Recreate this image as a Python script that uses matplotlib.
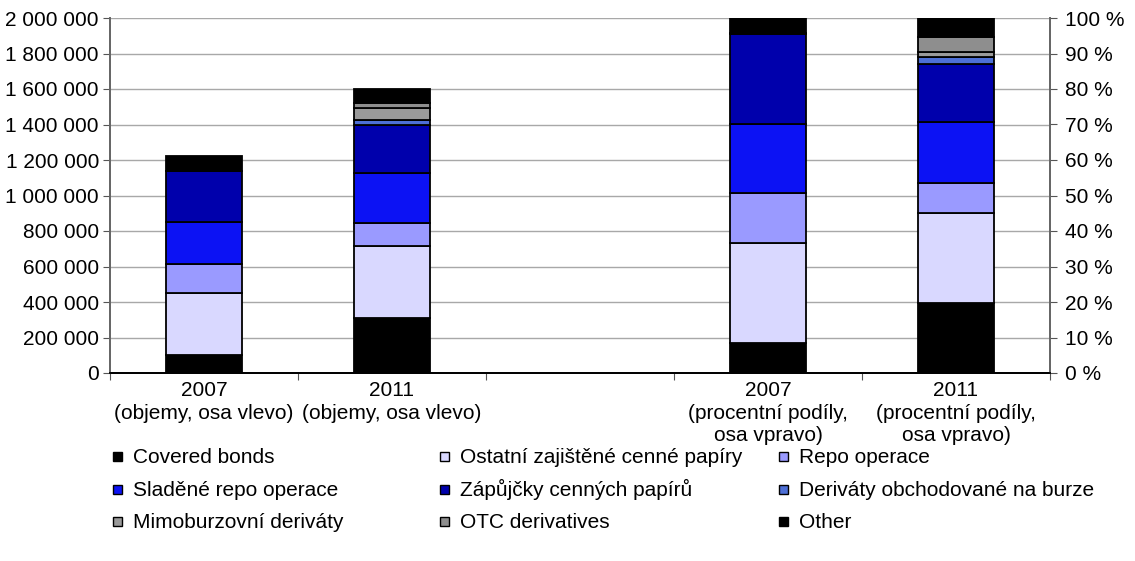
import matplotlib
matplotlib.use("Agg")
import matplotlib.pyplot as plt
from matplotlib.patches import Rectangle
from matplotlib.ticker import FuncFormatter, FixedLocator

plt.rcParams['font.family'] = ['Liberation Sans', 'DejaVu Sans']

# ---- data ----
series = ["Covered bonds", "Ostatní zajištěné cenné papíry", "Repo operace",
          "Sladěné repo operace", "Zápůjčky cenných papírů",
          "Deriváty obchodované na burze", "Mimoburzovní deriváty",
          "OTC derivatives", "Other"]
colors = ["#000000", "#d9d8ff", "#9a9aff", "#0c12f4", "#0000ac",
          "#4d6fd6", "#9a9a9a", "#8e8e8e", "#000000"]

categories = ["2007\n(objemy, osa vlevo)", "2011\n(objemy, osa vlevo)", "",
              "2007\n(procentní podíly,\nosa vpravo)",
              "2011\n(procentní podíly,\nosa vpravo)"]

vol_2007 = [100000, 350000, 165000, 235000, 290000, 0, 0, 0, 80000]
vol_2011 = [310000, 406000, 130000, 282000, 270000, 28000, 68000, 28000, 79000]
pct_2007 = [8.5, 28.2, 14.1, 19.4, 25.3, 0.0, 0.3, 0.0, 4.2]
pct_2011 = [19.7, 25.4, 8.5, 17.2, 16.3, 2.0, 1.4, 4.2, 5.3]

left_ticks = [0, 200000, 400000, 600000, 800000, 1000000, 1200000,
              1400000, 1600000, 1800000, 2000000]
right_ticks = [0, 10, 20, 30, 40, 50, 60, 70, 80, 90, 100]

# ---- figure ----
W, H = 1135, 561
fig = plt.figure(figsize=(W / 100, H / 100), dpi=100)
ax = fig.add_axes([110 / W, (H - 373) / H, (1050 - 110) / W, (373 - 18) / H])
ax2 = ax.twinx()

bw = 0.40
fs = 15

def stack(axis, xpos, vals):
    bottom = 0
    for v, c in zip(vals, colors):
        axis.bar(xpos, v, bw, bottom=bottom, color=c, edgecolor="black",
                 linewidth=1.3, zorder=3)
        bottom += v

stack(ax, 0, vol_2007)
stack(ax, 1, vol_2011)
stack(ax2, 3, pct_2007)
stack(ax2, 4, pct_2011)

ax.set_xlim(-0.5, 4.5)
ax.set_ylim(0, 2000000)
ax2.set_ylim(0, 100)

ax.set_yticks(left_ticks)
ax.yaxis.set_major_formatter(FuncFormatter(lambda v, p: f"{int(v):,}".replace(",", " ")))
ax2.set_yticks(right_ticks)
ax2.yaxis.set_major_formatter(FuncFormatter(lambda v, p: f"{int(v)} %"))

ax.grid(axis="y", color="#a8a8a8", linewidth=1.0, zorder=0)
ax.set_axisbelow(True)

# x ticks: marks at boundaries, labels at centres
ax.xaxis.set_major_locator(FixedLocator([-0.5, 0.5, 1.5, 2.5, 3.5, 4.5]))
ax.set_xticklabels([""] * 6)
ax.xaxis.set_minor_locator(FixedLocator([0, 1, 2, 3, 4]))
ax.set_xticklabels(categories, minor=True, fontsize=fs, linespacing=1.22)
ax.tick_params(axis="x", which="major", length=5, direction="out", color="#555555")
ax.tick_params(axis="x", which="minor", length=0, pad=6)

ax.tick_params(axis="y", length=5, direction="out", color="#555555", labelsize=fs, pad=3)
ax2.tick_params(axis="y", length=5, direction="out", color="#555555", labelsize=fs, pad=6)

for a in (ax, ax2):
    a.spines["top"].set_visible(False)
    a.spines["left"].set_color("#666666")
    a.spines["right"].set_color("#666666")
    a.spines["bottom"].set_color("#000000")
    a.spines["left"].set_linewidth(1.3)
    a.spines["right"].set_linewidth(1.3)
    a.spines["bottom"].set_linewidth(1.3)

# ---- legend: three columns, filled row-wise, fixed rows ----
col_px = [113, 440, 779]
row_px = [456, 489, 521]
sq = 9
for i, (name, c) in enumerate(zip(series, colors)):
    r, k = divmod(i, 3)
    x0 = col_px[k]
    yc = row_px[r]
    fig.patches.append(Rectangle((x0 / W, (H - yc - sq / 2) / H), sq / W, sq / H,
                                 facecolor=c, edgecolor="black", linewidth=1.0,
                                 transform=fig.transFigure, figure=fig))
    fig.text((x0 + 20) / W, (H - yc - 7) / H, name, fontsize=fs, va="baseline",
             ha="left")

fig.savefig("out.png", dpi=100)
